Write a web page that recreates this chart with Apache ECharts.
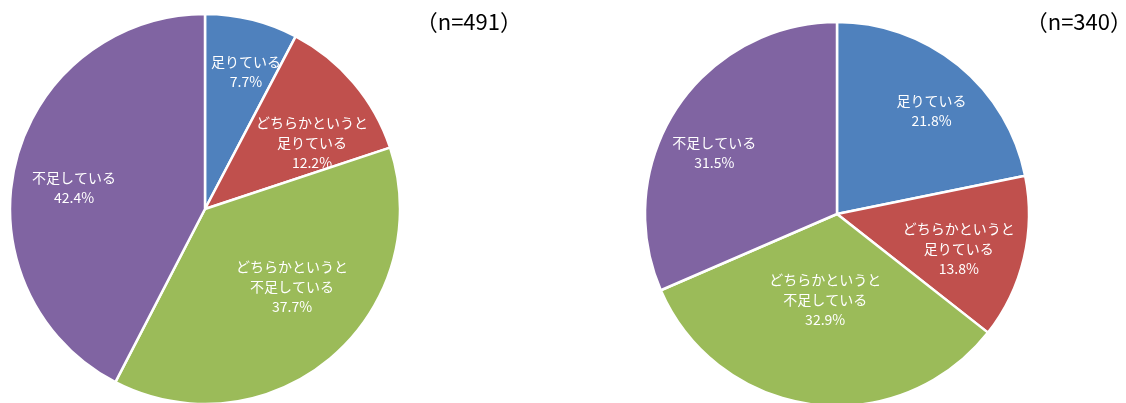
<!DOCTYPE html>
<html><head><meta charset="utf-8">
<script src="https://cdn.jsdelivr.net/npm/echarts@6/dist/echarts.min.js"></script>
<style>html,body{margin:0;padding:0;background:#fff}#c{width:1126px;height:403px}</style>
</head><body><div id="c"></div>
<script>
const categories = ['足りている', 'どちらかというと\n足りている', 'どちらかというと\n不足している', '不足している'];
const leftValues = [7.7, 12.2, 37.7, 42.4];
const rightValues = [21.8, 13.8, 32.9, 31.5];
const leftTitle = '（n=491）';
const rightTitle = '（n=340）';
const colors = ['#4F81BD', '#C0504D', '#9BBB59', '#8064A2'];

// label placement (style): radius ratio and angle tweak per slice
const leftLabelRatio = [0.733, 0.645, 0.60, 0.68];
const leftLabelAngleAdj = [2.8, 8.6, -7.6, -4.6];
const rightLabelRatio = [0.73, 0.66, 0.45, 0.715];
const rightLabelAngleAdj = [3.2, 2.7, 0.5, -6.6];

const chart = echarts.init(document.getElementById('c'));
const FONT = '"Noto Sans CJK JP", "Noto Sans", sans-serif';

function makeLayout(values, center, radius, ratios, adj) {
  const total = values.reduce((a, b) => a + b, 0);
  return function (params) {
    const i = params.dataIndex;
    let cum = 0;
    for (let k = 0; k < i; k++) cum += values[k];
    const mid = (cum + values[i] / 2) / total * 360 + adj[i];
    const a = mid * Math.PI / 180;
    const r = radius * ratios[i];
    return {
      x: center[0] + r * Math.sin(a),
      y: center[1] - r * Math.cos(a),
      align: 'center',
      verticalAlign: 'middle'
    };
  };
}

function pieSeries(values, center, radius, ratios, adj) {
  return {
    type: 'pie',
    center: center,
    radius: radius,
    startAngle: 90,
    clockwise: true,
    avoidLabelOverlap: false,
    animation: false,
    silent: true,
    itemStyle: { borderColor: '#fff', borderWidth: 2.5 },
    label: {
      show: true,
      position: 'inside',
      formatter: p => p.name + '\n' + p.value.toFixed(1) + '%',
      color: '#fff',
      fontSize: 14,
      lineHeight: 20,
      fontFamily: FONT,
      align: 'center'
    },
    labelLine: { show: false },
    labelLayout: makeLayout(values, center, radius, ratios, adj),
    data: categories.map((c, i) => ({ name: c, value: values[i], itemStyle: { color: colors[i] } }))
  };
}

chart.setOption({
  backgroundColor: '#fff',
  title: [
    { text: leftTitle, right: 599, top: 6, textStyle: { fontFamily: FONT, fontSize: 22, fontWeight: 'normal', color: '#000' } },
    { text: rightTitle, right: -11, top: 6, textStyle: { fontFamily: FONT, fontSize: 22, fontWeight: 'normal', color: '#000' } }
  ],
  series: [
    pieSeries(leftValues, [205, 209], 195, leftLabelRatio, leftLabelAngleAdj),
    pieSeries(rightValues, [837, 214], 192, rightLabelRatio, rightLabelAngleAdj)
  ]
});
</script></body></html>
